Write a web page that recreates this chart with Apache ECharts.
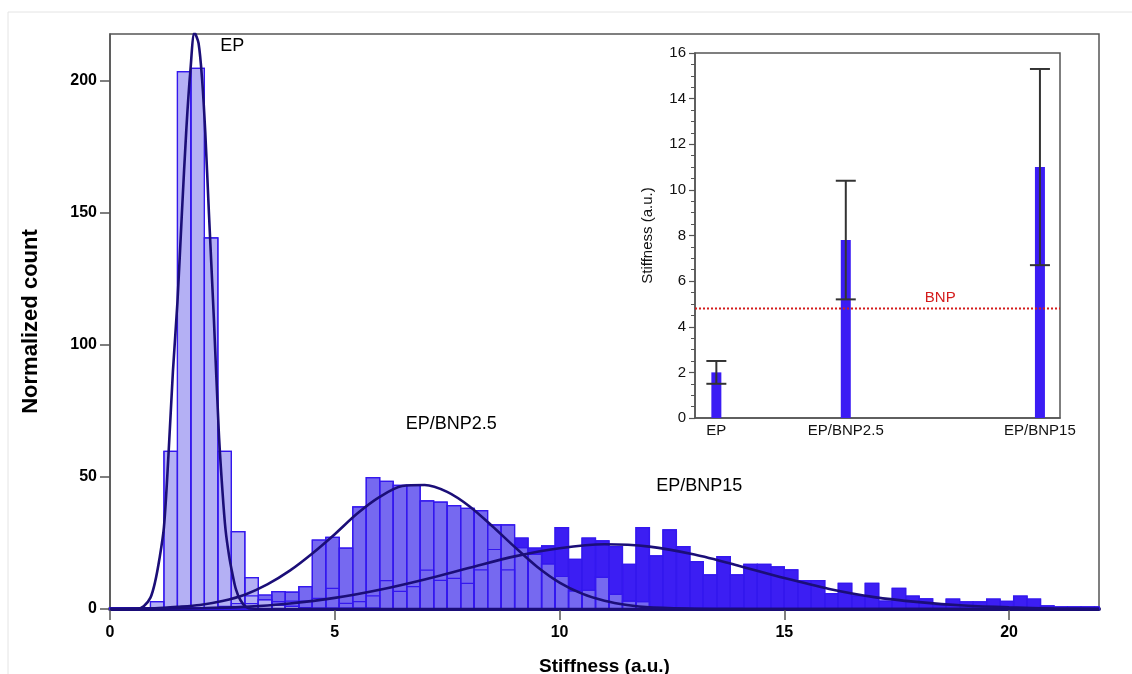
<!DOCTYPE html>
<html>
<head>
<meta charset="utf-8">
<script src="https://cdn.jsdelivr.net/npm/echarts@6/dist/echarts.min.js"></script>
<style>
  html, body { margin: 0; padding: 0; background: #fff; }
  #chart { width: 1132px; height: 674px; }
</style>
</head>
<body>
<div id="chart"></div>
<script>
// histogram bins: width 0.3, bin i starts at i * 0.3
const binWidth = 0.3
const countsEP = [0.3, 0.3, 0.5, 2.8, 59.6, 203.3, 204.5, 140.4, 59.6, 29.3,
  11.9, 3.5, 1.5, 1.0, 0.5, 0.3, 0.3, 0.3, 0.3, 0.3]
const countsBNP25 = [0.3, 0.3, 0.3, 0.3, 0.3, 0.3, 0.3, 0.5, 1.0, 2.0,
  5.0, 5.3, 6.6, 6.4, 8.5, 26.1, 27.1, 23.0, 38.6, 49.7,
  48.3, 46.8, 46.8, 40.9, 40.4, 39.1, 38.1, 37.2, 31.8, 31.8,
  23.2, 20.7, 17.1, 12.3, 6.8, 7.1, 12.0, 5.5, 3.0, 2.8,
  0.5, 0.5, 0.3, 0.3, 0.3, 0.3, 0.3]
const countsBNP15 = [0.3, 0.3, 0.3, 0.3, 0.5, 0.5, 0.5, 0.5, 0.8, 1.0,
  2.0, 3.5, 2.8, 3.0, 3.0, 4.0, 7.8, 2.1, 2.8, 5.0,
  10.7, 6.7, 8.5, 14.7, 10.8, 11.6, 9.7, 14.8, 22.5, 14.8,
  26.8, 23.0, 23.9, 30.8, 18.8, 26.8, 25.8, 23.6, 16.9, 30.8,
  20.1, 29.9, 23.6, 17.9, 12.9, 19.8, 12.9, 16.9, 16.9, 15.9,
  14.8, 10.7, 10.7, 5.8, 9.7, 5.0, 9.7, 3.0, 7.8, 4.9,
  3.8, 1.5, 3.7, 2.7, 2.7, 3.7, 2.9, 4.9, 3.7, 1.2,
  0.8, 0.8, 0.8, 0.8]

// fitted curves, points [stiffness, count]
const curveEP = [[0, 0], [0.6, 0], [0.75, 1], [0.9, 4.3], [1.0, 10], [1.1, 19], [1.2, 31],
  [1.3, 58], [1.4, 90], [1.5, 116], [1.6, 150], [1.7, 182], [1.79, 204], [1.88, 218],
  [1.97, 214], [2.05, 200], [2.12, 180], [2.2, 150], [2.31, 110], [2.42, 67], [2.5, 45],
  [2.57, 30], [2.65, 20], [2.72, 13.6], [2.8, 7.5], [2.9, 3.4], [3.05, 0.5], [3.3, 0], [22, 0]]
const curveBNP25 = [[0, 0], [1.0, 0.3], [1.5, 0.8], [2.0, 1.5], [2.5, 3.0], [3.0, 5.4],
  [3.5, 9.3], [4.0, 14.5], [4.5, 21.0], [5.0, 28.3], [5.5, 36.1], [6.0, 42.4], [6.5, 46.5],
  [7.0, 46.9], [7.5, 44.3], [8.0, 38.8], [8.5, 31.4], [9.0, 23.5], [9.5, 16.0], [10.0, 10.0],
  [10.5, 5.8], [11.0, 3.1], [11.5, 1.5], [12.0, 0.6], [13.0, 0.1], [14.0, 0], [22, 0]]
const curveBNP15 = [[0, 0], [2.0, 0.3], [3.0, 0.8], [4.0, 2.1], [5.0, 4.2], [6.0, 7.3],
  [7.0, 11.2], [8.0, 15.6], [9.0, 19.9], [10.0, 23.0], [11.0, 24.5], [12.0, 23.6],
  [13.0, 20.6], [14.0, 16.3], [15.0, 11.7], [16.0, 7.6], [17.0, 4.5], [18.0, 2.6],
  [19.0, 1.3], [20.0, 0.6], [21.0, 0.2], [22.0, 0]]

// curve labels [x, y, text]
const curveLabels = [[2.45, 213, 'EP'], [6.58, 70, 'EP/BNP2.5'], [12.15, 46.5, 'EP/BNP15']]

// inset: mean stiffness with spread
const insetNames = ['EP', 'EP/BNP2.5', 'EP/BNP15']
const insetPos = [1, 2, 3.5]
const insetMean = [2.0, 7.8, 11.0]
const insetLow = [1.5, 5.2, 6.7]
const insetHigh = [2.5, 10.4, 15.3]
const bnpLevel = 4.8
const insetMin = 0.835
const insetMax = 3.655

const chart = echarts.init(document.getElementById('chart'))

function binData(counts) {
  return counts.map((c, i) => [i * binWidth, c])
}

function histRender(fill, stroke) {
  return function (params, api) {
    const cs = params.coordSys
    const x0 = api.value(0)
    const p0 = api.coord([x0, api.value(1)])
    const p1 = api.coord([x0 + binWidth, 0])
    const right = Math.min(p1[0], cs.x + cs.width)
    return {
      type: 'rect',
      shape: { x: p0[0], y: p0[1], width: right - p0[0], height: p1[1] - p0[1] },
      style: { fill: fill, stroke: stroke, lineWidth: 1.2 }
    }
  }
}

const fillEP = '#b4b0f4'
const fill25 = '#7669f0'
const fill15 = '#3c1ef3'
const edge = '#3418ee'
const curveColor = '#1b0e78'
const boldFont = 'Liberation Sans, Arial, sans-serif'
const plainFont = 'Liberation Sans, Arial, sans-serif'

const series = []
const hist = [[countsBNP15, fill15], [countsBNP25, fill25], [countsEP, fillEP]]
hist.forEach(h => {
  series.push({
    type: 'custom', renderItem: histRender(h[1], edge), data: binData(h[0]),
    encode: { x: 0, y: 1 }, z: 2, silent: true
  })
})
hist.forEach(h => {
  series.push({
    type: 'custom', renderItem: histRender('none', edge), data: binData(h[0]),
    encode: { x: 0, y: 1 }, z: 3, silent: true
  })
})
;[curveEP, curveBNP25, curveBNP15].forEach(c => {
  series.push({
    type: 'line', data: c, showSymbol: false, smooth: 0.3, z: 5,
    lineStyle: { color: curveColor, width: 2.6 }
  })
})
series.push({
  type: 'scatter', symbolSize: 0, z: 6,
  itemStyle: { opacity: 1 },
  data: curveLabels.map(d => ({ value: [d[0], d[1]], name: d[2] })),
  label: {
    show: true, position: 'right', distance: 0, formatter: '{b}',
    fontFamily: plainFont, fontSize: 18, color: '#000', opacity: 1
  }
})

// inset
series.push({
  type: 'bar', xAxisIndex: 1, yAxisIndex: 1, barWidth: 10, z: 10,
  data: insetPos.map((p, i) => [p, insetMean[i]]),
  itemStyle: { color: '#3b1cf4' }
})
series.push({
  type: 'line', xAxisIndex: 1, yAxisIndex: 1, z: 11, showSymbol: false,
  data: [[insetMin, bnpLevel], [insetMax, bnpLevel]],
  lineStyle: { color: '#d41c1c', type: [2, 2], width: 2 }
})
series.push({
  type: 'custom', xAxisIndex: 1, yAxisIndex: 1, z: 12,
  data: insetPos.map((p, i) => [p, insetLow[i], insetHigh[i]]),
  encode: { x: 0, y: [1, 2] },
  renderItem: function (params, api) {
    const lo = api.coord([api.value(0), api.value(1)])
    const hi = api.coord([api.value(0), api.value(2)])
    const style = { stroke: '#333', lineWidth: 2 }
    return {
      type: 'group',
      children: [
        { type: 'line', shape: { x1: lo[0], y1: lo[1], x2: hi[0], y2: hi[1] }, style: style },
        { type: 'line', shape: { x1: lo[0] - 10, y1: lo[1], x2: lo[0] + 10, y2: lo[1] }, style: style },
        { type: 'line', shape: { x1: hi[0] - 10, y1: hi[1], x2: hi[0] + 10, y2: hi[1] }, style: style }
      ]
    }
  }
})
series.push({
  type: 'scatter', xAxisIndex: 1, yAxisIndex: 1, symbolSize: 0, z: 13,
  itemStyle: { opacity: 1 },
  data: [{ value: [2.73, bnpLevel], name: 'BNP' }],
  label: {
    show: true, position: 'top', distance: 3, formatter: '{b}',
    fontFamily: plainFont, fontSize: 15, color: '#d41c1c', opacity: 1
  }
})

chart.setOption({
  backgroundColor: '#fff',
  animation: false,
  graphic: [{
    type: 'polyline', silent: true,
    shape: { points: [[8, 674], [8, 12], [1132, 12]] },
    style: { stroke: '#e4e4e4', lineWidth: 1, fill: 'none' }
  }],
  grid: [
    { left: 110, right: 33, top: 34, bottom: 65, show: true, borderColor: '#555', borderWidth: 1.5, outerBoundsMode: 'none' },
    { left: 695, top: 53, width: 365, height: 365, show: true, borderColor: '#555', borderWidth: 1.5, backgroundColor: '#fff', z: 8, outerBoundsMode: 'none' }
  ],
  xAxis: [
    {
      type: 'value', gridIndex: 0, min: 0, max: 22, interval: 5,
      name: 'Stiffness (a.u.)', nameLocation: 'middle', nameGap: 48,
      nameTextStyle: { fontFamily: boldFont, fontSize: 19, fontWeight: 'bold', color: '#000' },
      axisLine: { lineStyle: { color: curveColor, width: 4 } },
      axisTick: { inside: false, length: 11, lineStyle: { color: '#555', width: 1.5 } },
      axisLabel: { margin: 16, fontFamily: boldFont, fontSize: 16, fontWeight: 'bold', color: '#000', showMaxLabel: false },
      splitLine: { show: false }
    },
    {
      type: 'value', gridIndex: 1, min: insetMin, max: insetMax, z: 9,
      axisLine: { lineStyle: { color: '#555', width: 1.5 } },
      axisTick: { show: false },
      axisLabel: {
        customValues: insetPos, margin: 5,
        fontFamily: plainFont, fontSize: 15, color: '#111',
        formatter: v => insetNames[insetPos.indexOf(v)]
      },
      splitLine: { show: false }
    }
  ],
  yAxis: [
    {
      type: 'value', gridIndex: 0, min: 0, max: 217.5, interval: 50,
      name: 'Normalized count', nameLocation: 'middle', nameGap: 68,
      nameTextStyle: { fontFamily: boldFont, fontSize: 22, fontWeight: 'bold', color: '#000' },
      axisLine: { show: true, lineStyle: { color: '#555', width: 1.5 } },
      axisTick: { show: true, length: 10, lineStyle: { color: '#555', width: 1.5 } },
      axisLabel: { margin: 13, fontFamily: boldFont, fontSize: 16, fontWeight: 'bold', color: '#000', showMaxLabel: false },
      splitLine: { show: false }
    },
    {
      type: 'value', gridIndex: 1, min: 0, max: 16, interval: 2, z: 9,
      name: 'Stiffness (a.u.)', nameLocation: 'middle', nameGap: 40,
      nameTextStyle: { fontFamily: plainFont, fontSize: 15, color: '#111' },
      axisLine: { show: true, lineStyle: { color: '#555', width: 1.5 } },
      axisTick: { show: true, length: 6, lineStyle: { color: '#555', width: 1.2 } },
      minorTick: { show: true, splitNumber: 4, length: 4, lineStyle: { color: '#555', width: 1 } },
      axisLabel: { margin: 9, fontFamily: plainFont, fontSize: 15, color: '#111' },
      splitLine: { show: false }
    }
  ],
  series: series
})
</script>
</body>
</html>
